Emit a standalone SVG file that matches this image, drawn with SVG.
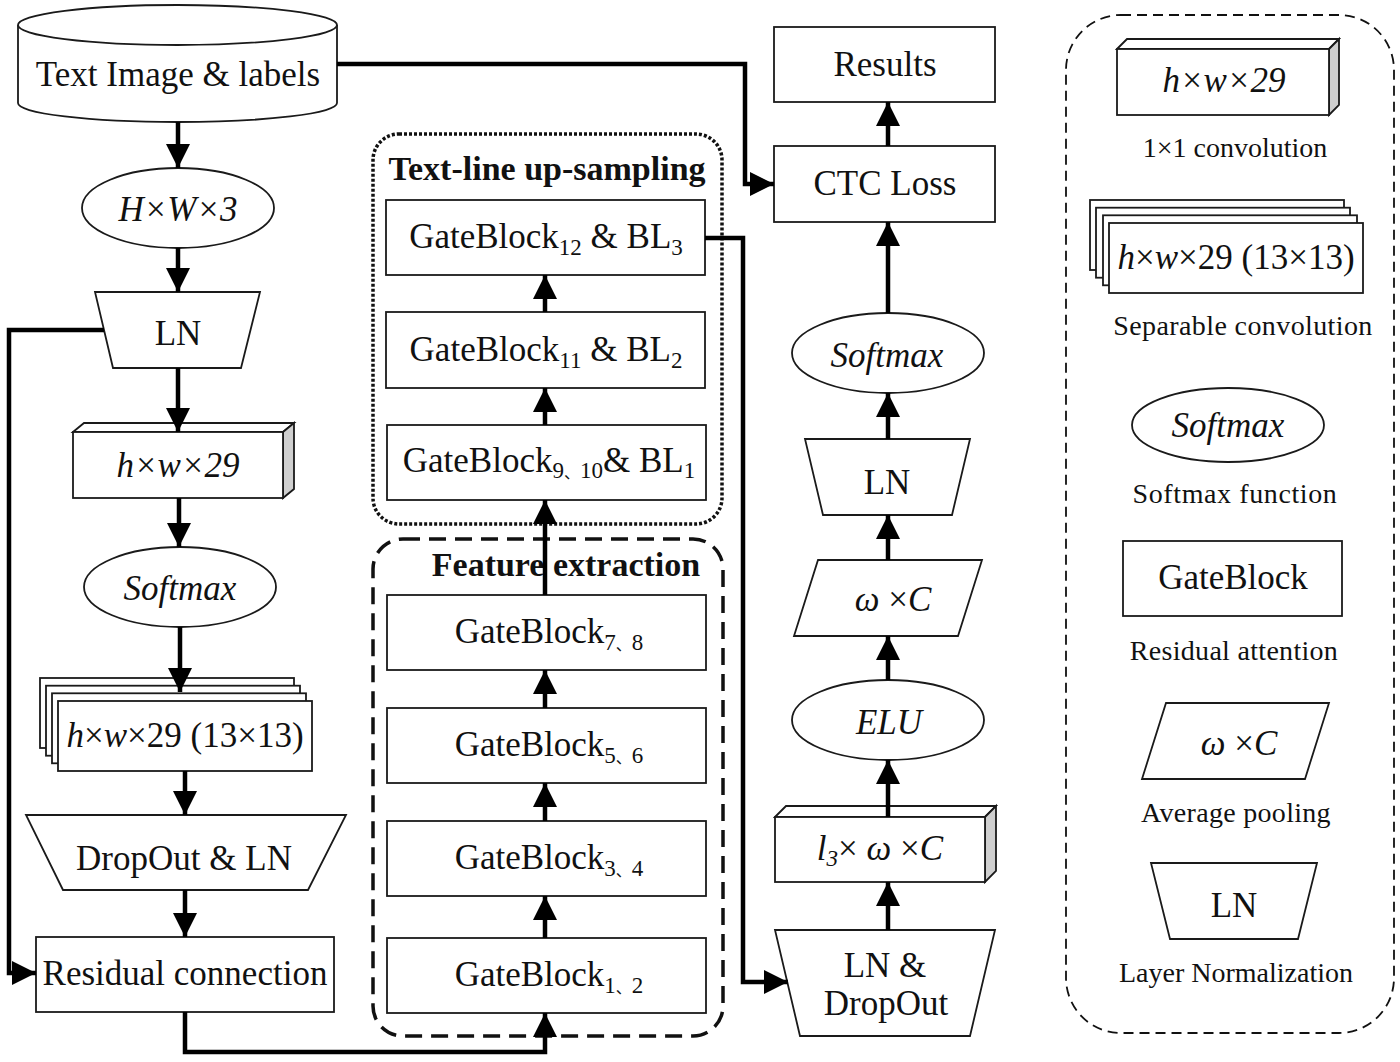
<svg xmlns="http://www.w3.org/2000/svg" width="1400" height="1062" viewBox="0 0 1400 1062">
<style>
.n{fill:#fff;stroke:#1a1a1a;stroke-width:1.8}
.sd{fill:#cfcfcf;stroke:#1a1a1a;stroke-width:1.8}
.t{font-family:"Liberation Serif","Times New Roman","Noto Sans CJK SC",serif;fill:#111;font-size:35px;text-anchor:middle}
.i{font-style:italic}
.cap{font-size:28px}
.b{font-weight:bold;font-size:34px}
.c{stroke:#000;stroke-width:4.5;fill:none}
.grp{fill:none;stroke:#111}
</style>
<defs>
<marker id="ah" viewBox="0 0 24 24" markerWidth="24" markerHeight="24" markerUnits="userSpaceOnUse" refX="24" refY="12" orient="auto">
<path d="M0,0 L24,12 L0,24 Z" fill="#000"/>
</marker>
</defs>
<rect width="1400" height="1062" fill="#fff"/>

<!-- group frames -->
<g id="group-upsampling">
<rect class="grp" x="373" y="134" width="349" height="390" rx="26" stroke-width="3.5" stroke-dasharray="3 2"/>
<text class="t b" x="547" y="180">Text-line up-sampling</text>
</g>
<g id="group-feature">
<rect class="grp" x="373" y="539" width="350" height="497" rx="30" stroke-width="3.5" stroke-dasharray="17 9"/>
<text class="t b" x="566" y="576">Feature extraction</text>
</g>
<g id="group-legend">
<rect class="grp" x="1066" y="15" width="328" height="1018" rx="55" stroke-width="1.8" stroke-dasharray="10 6"/>
</g>

<!-- left column -->
<g id="n-input">
<path class="n" d="M18,25 L18,103 A159.5,19 0 0 0 337,103 L337,25"/>
<ellipse class="n" cx="177.5" cy="25" rx="159.5" ry="20"/>
<text class="t" x="178" y="86" font-size="34">Text Image &amp; labels</text>
</g>
<g id="n-hw3">
<ellipse class="n" cx="178" cy="208" rx="96" ry="40"/>
<text class="t i" x="178" y="221">H×W×3</text>
</g>
<g id="n-ln1">
<polygon class="n" points="95,292 260,292 241,368 113,368"/>
<text class="t" x="178" y="345">LN</text>
</g>
<g id="n-conv1">
<polygon class="n" points="73,432 84,423 294,423 283,432"/>
<polygon class="sd" points="283,432 294,423 294,489 283,498"/>
<rect class="n" x="73" y="432" width="210" height="66"/>
<text class="t i" x="178" y="477">h×w×29</text>
</g>
<g id="n-softmax1">
<ellipse class="n" cx="180" cy="587" rx="96" ry="40"/>
<text class="t i" x="180" y="600">Softmax</text>
</g>
<g id="n-sep1">
<rect class="n" x="40" y="678" width="254" height="70"/>
<rect class="n" x="46" y="685.7" width="254" height="70"/>
<rect class="n" x="52" y="693.3" width="254" height="70"/>
<rect class="n" x="58" y="701" width="254" height="70"/>
<text class="t" x="185" y="747"><tspan class="i">h</tspan>×<tspan class="i">w</tspan>×29 (13×13)</text>
</g>
<g id="n-dropln">
<polygon class="n" points="26,815 346,815 308,890 63,890"/>
<text class="t" x="184" y="870">DropOut &amp; LN</text>
</g>
<g id="n-residual">
<rect class="n" x="36" y="937" width="298" height="75"/>
<text class="t" x="185" y="985">Residual connection</text>
</g>

<!-- middle column -->
<g id="n-gb12">
<rect class="n" x="386" y="200" width="319" height="75"/>
<text class="t" x="546" y="248">GateBlock<tspan font-size="23" dy="7">12</tspan><tspan dy="-7"> &amp; BL</tspan><tspan font-size="23" dy="7">3</tspan></text>
</g>
<g id="n-gb11">
<rect class="n" x="386" y="312" width="319" height="76"/>
<text class="t" x="546" y="361">GateBlock<tspan font-size="23" dy="7">11</tspan><tspan dy="-7"> &amp; BL</tspan><tspan font-size="23" dy="7">2</tspan></text>
</g>
<g id="n-gb910">
<rect class="n" x="387" y="425" width="319" height="75"/>
<text class="t" x="549" y="472">GateBlock<tspan font-size="23" dy="6">9</tspan><tspan font-size="16">、</tspan><tspan font-size="23">10</tspan><tspan dy="-6">&amp; BL</tspan><tspan font-size="23" dy="6">1</tspan></text>
</g>
<g id="n-gb78">
<rect class="n" x="387" y="595" width="319" height="75"/>
<text class="t" x="549" y="643">GateBlock<tspan font-size="23" dy="7">7</tspan><tspan font-size="16">、</tspan><tspan font-size="23">8</tspan></text>
</g>
<g id="n-gb56">
<rect class="n" x="387" y="708" width="319" height="75"/>
<text class="t" x="549" y="756">GateBlock<tspan font-size="23" dy="7">5</tspan><tspan font-size="16">、</tspan><tspan font-size="23">6</tspan></text>
</g>
<g id="n-gb34">
<rect class="n" x="387" y="821" width="319" height="75"/>
<text class="t" x="549" y="869">GateBlock<tspan font-size="23" dy="7">3</tspan><tspan font-size="16">、</tspan><tspan font-size="23">4</tspan></text>
</g>
<g id="n-gb12b">
<rect class="n" x="387" y="938" width="319" height="75"/>
<text class="t" x="549" y="986">GateBlock<tspan font-size="23" dy="7">1</tspan><tspan font-size="16">、</tspan><tspan font-size="23">2</tspan></text>
</g>

<!-- right column -->
<g id="n-results">
<rect class="n" x="774" y="27" width="221" height="75"/>
<text class="t" x="885" y="76">Results</text>
</g>
<g id="n-ctc">
<rect class="n" x="774" y="146" width="221" height="76"/>
<text class="t" x="885" y="195">CTC Loss</text>
</g>
<g id="n-softmax2">
<ellipse class="n" cx="888" cy="353" rx="96" ry="40"/>
<text class="t i" x="887" y="367">Softmax</text>
</g>
<g id="n-ln2">
<polygon class="n" points="805,439 970,439 952,515 823,515"/>
<text class="t" x="887" y="494">LN</text>
</g>
<g id="n-pool">
<polygon class="n" points="818,560 982,560 958,636 794,636"/>
<text class="t" x="893" y="611"><tspan class="i">ω</tspan> ×<tspan class="i">C</tspan></text>
</g>
<g id="n-elu">
<ellipse class="n" cx="888" cy="720" rx="96" ry="40"/>
<text class="t i" x="889" y="734">ELU</text>
</g>
<g id="n-conv2">
<polygon class="n" points="775,817 786,806 996,806 985,817"/>
<polygon class="sd" points="985,817 996,806 996,871 985,882"/>
<rect class="n" x="775" y="817" width="210" height="65"/>
<text class="t" x="880" y="860"><tspan class="i">l</tspan><tspan class="i" font-size="23" dy="6">3</tspan><tspan dy="-6">× </tspan><tspan class="i">ω</tspan> ×<tspan class="i">C</tspan></text>
</g>
<g id="n-lndrop">
<polygon class="n" points="775,930 995,930 970,1036 800,1036"/>
<text class="t" x="885" y="977">LN &amp;</text>
<text class="t" x="886" y="1015">DropOut</text>
</g>

<!-- legend items -->
<g id="lg-conv">
<polygon class="n" points="1117,49 1127,39 1339,39 1329,49"/>
<polygon class="sd" points="1329,49 1339,39 1339,105 1329,115"/>
<rect class="n" x="1117" y="49" width="212" height="66"/>
<text class="t i" x="1224" y="92">h×w×29</text>
<text class="t cap" x="1235" y="157">1×1 convolution</text>
</g>
<g id="lg-sep">
<rect class="n" x="1090" y="200" width="254" height="70"/>
<rect class="n" x="1096" y="207.7" width="254" height="70"/>
<rect class="n" x="1103" y="215.3" width="254" height="70"/>
<rect class="n" x="1109" y="223" width="254" height="70"/>
<text class="t" x="1236" y="269"><tspan class="i">h</tspan>×<tspan class="i">w</tspan>×29 (13×13)</text>
<text class="t cap" x="1243" y="335" letter-spacing="0.4">Separable convolution</text>
</g>
<g id="lg-softmax">
<ellipse class="n" cx="1228" cy="425" rx="96" ry="37"/>
<text class="t i" x="1228" y="437">Softmax</text>
<text class="t cap" x="1235" y="503" letter-spacing="0.6">Softmax function</text>
</g>
<g id="lg-gate">
<rect class="n" x="1123" y="541" width="219" height="75"/>
<text class="t" x="1233" y="589">GateBlock</text>
<text class="t cap" x="1234" y="660" letter-spacing="0.3">Residual attention</text>
</g>
<g id="lg-pool">
<polygon class="n" points="1166,703 1329,703 1305,779 1142,779"/>
<text class="t" x="1239" y="755"><tspan class="i">ω</tspan> ×<tspan class="i">C</tspan></text>
<text class="t cap" x="1236" y="822" letter-spacing="0.3">Average pooling</text>
</g>
<g id="lg-ln">
<polygon class="n" points="1151,863 1317,863 1298,939 1170,939"/>
<text class="t" x="1234" y="917">LN</text>
<text class="t cap" x="1236" y="982">Layer Normalization</text>
</g>

<!-- connectors -->
<g id="connectors">
<path class="c" d="M178,122 V168" marker-end="url(#ah)"/>
<path class="c" d="M178,248 V292" marker-end="url(#ah)"/>
<path class="c" d="M178,368 V432" marker-end="url(#ah)"/>
<path class="c" d="M179,498 V547" marker-end="url(#ah)"/>
<path class="c" d="M180,627 V692" marker-end="url(#ah)"/>
<path class="c" d="M185,771 V815" marker-end="url(#ah)"/>
<path class="c" d="M185,890 V937" marker-end="url(#ah)"/>
<path class="c" d="M104,330 H9 V973 H36" marker-end="url(#ah)"/>
<path class="c" d="M185,1012 V1052 H545 V1013" marker-end="url(#ah)"/>
<path class="c" d="M545,938 V896" marker-end="url(#ah)"/>
<path class="c" d="M545,821 V783" marker-end="url(#ah)"/>
<path class="c" d="M545,708 V670" marker-end="url(#ah)"/>
<path class="c" d="M545,595 V500" marker-end="url(#ah)"/>
<path class="c" d="M545,425 V388" marker-end="url(#ah)"/>
<path class="c" d="M545,312 V275" marker-end="url(#ah)"/>
<path class="c" d="M705,238 H743 V982 H788" marker-end="url(#ah)"/>
<path class="c" d="M888,930 V882" marker-end="url(#ah)"/>
<path class="c" d="M888,817 V760" marker-end="url(#ah)"/>
<path class="c" d="M888,680 V636" marker-end="url(#ah)"/>
<path class="c" d="M888,560 V515" marker-end="url(#ah)"/>
<path class="c" d="M888,439 V393" marker-end="url(#ah)"/>
<path class="c" d="M888,313 V222" marker-end="url(#ah)"/>
<path class="c" d="M888,146 V102" marker-end="url(#ah)"/>
<path class="c" d="M337,64 H745 V184 H774" marker-end="url(#ah)"/>
</g>
</svg>
